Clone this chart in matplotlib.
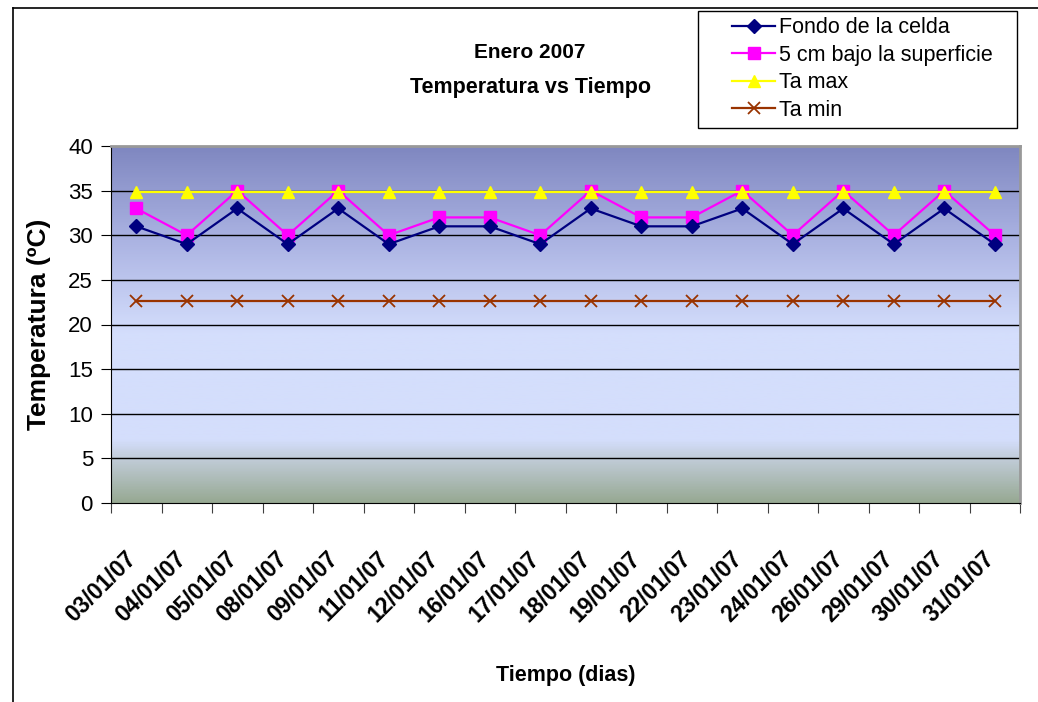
import matplotlib.pyplot as plt
import numpy as np
from matplotlib.colors import LinearSegmentedColormap
from matplotlib.lines import Line2D
from matplotlib.patches import Rectangle
from matplotlib.transforms import ScaledTranslation

# data
fechas = ['03/01/07', '04/01/07', '05/01/07', '08/01/07', '09/01/07', '11/01/07',
          '12/01/07', '16/01/07', '17/01/07', '18/01/07', '19/01/07', '22/01/07',
          '23/01/07', '24/01/07', '26/01/07', '29/01/07', '30/01/07', '31/01/07']
fondo_celda = [31, 29, 33, 29, 33, 29, 31, 31, 29, 33, 31, 31, 33, 29, 33, 29, 33, 29]
bajo_superficie = [33, 30, 35, 30, 35, 30, 32, 32, 30, 35, 32, 32, 35, 30, 35, 30, 35, 30]
ta_max = [34.8] * 18
ta_min = [22.6] * 18

plt.rcParams['font.family'] = ['Liberation Sans', 'DejaVu Sans']

fig = plt.figure(figsize=(10.38, 7.02), dpi=100)
ax = fig.add_axes([111 / 1038, 1 - 503 / 702, 909 / 1038, 357 / 702])

x = np.arange(len(fechas))

# background gradient of the plot area (value -> colour)
stops = [(0.0, '#97a993'), (5 / 40, '#c2cdda'), (7 / 40, '#d4defc'),
         (19 / 40, '#d4defc'), (30 / 40, '#a9b1e1'), (1.0, '#7f87c0')]
cmap = LinearSegmentedColormap.from_list('fondo', stops)
grad = np.linspace(0, 1, 400).reshape(-1, 1)
ax.imshow(grad, cmap=cmap, origin='lower', aspect='auto',
          extent=[-0.5, len(fechas) - 0.5, 0, 40], zorder=0)

for yv in range(5, 40, 5):
    ax.axhline(yv, color='black', lw=1.0, zorder=1)

ax.plot(x, fondo_celda, color='#000080', marker='D', markersize=7.5, lw=1.6,
        label='Fondo de la celda', zorder=4)
ax.plot(x, bajo_superficie, color='#ff00ff', marker='s', markersize=8, lw=1.6,
        label='5 cm bajo la superficie', zorder=3)
ax.plot(x, ta_max, color='#ffff00', marker='^', markersize=9, lw=1.6,
        label='Ta max', zorder=5)
ax.plot(x, ta_min, color='#993300', marker='x', markersize=9, mew=1.3, lw=1.6,
        label='Ta min', zorder=3)

ax.set_xlim(-0.5, len(fechas) - 0.5)
ax.set_ylim(0, 40)
ax.set_yticks(range(0, 41, 5))
ax.tick_params(axis='y', labelsize=16, length=7, direction='out', pad=6)

# ticks between categories, labels at the category centres
ax.set_xticks(np.arange(-0.5, len(fechas), 1.0))
ax.set_xticklabels([])
ax.set_xticks(x, minor=True)
ax.set_xticklabels(fechas, minor=True, rotation=45, ha='right', va='top',
                   rotation_mode='anchor', fontsize=16.5, fontweight='bold')
ax.tick_params(axis='x', which='major', length=7, direction='out', color='#404040')
ax.tick_params(axis='x', which='minor', length=0, pad=32)
shift = ScaledTranslation(-12 / 100, 0, fig.dpi_scale_trans)
for lbl in ax.get_xticklabels(minor=True):
    lbl.set_transform(lbl.get_transform() + shift)

ax.spines['top'].set_color('#999999')
ax.spines['right'].set_color('#999999')
ax.spines['top'].set_linewidth(2)
ax.spines['right'].set_linewidth(2)

ax.set_ylabel('Temperatura (ºC)', fontsize=19, fontweight='bold')
ax.yaxis.set_label_coords(-0.066, 0.5)
ax.set_xlabel('Tiempo (dias)', fontsize=15.5, fontweight='bold')
ax.xaxis.set_label_coords(0.5, -0.455)

fig.text(530 / 1038, 1 - 52 / 702, 'Enero 2007', ha='center', va='center',
         fontsize=15, fontweight='bold')
fig.text(530 / 1038, 1 - 88 / 702, 'Temperatura vs Tiempo', ha='center', va='center',
         fontsize=15.5, fontweight='bold')

# legend box drawn separately so the entries can sit with left padding
fig.add_artist(Rectangle((698 / 1038, 1 - 128 / 702), 319 / 1038, 117 / 702,
                         transform=fig.transFigure, facecolor='white',
                         edgecolor='black', lw=1.0, zorder=2))
leg = fig.legend(loc='center left', bbox_to_anchor=(732 / 1038, 1 - 69 / 702),
                 fontsize=15.5, frameon=False, labelspacing=0.3,
                 handlelength=2.0, handletextpad=0.2, borderpad=0, borderaxespad=0)
leg.set_zorder(3)

# outer chart border (left and top edges)
fig.add_artist(Line2D([13 / 1038, 13 / 1038], [0, 1 - 8 / 702], color='black', lw=1.2))
fig.add_artist(Line2D([13 / 1038, 1], [1 - 8 / 702, 1 - 8 / 702], color='black', lw=1.2))

plt.savefig('out.png', dpi=100)
